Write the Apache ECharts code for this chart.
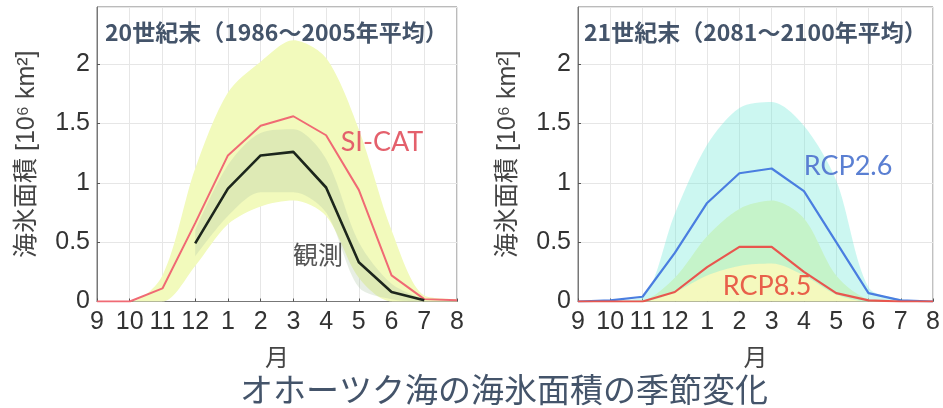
<!DOCTYPE html>
<html>
<head>
<meta charset="utf-8">
<script src="https://cdn.jsdelivr.net/npm/echarts@6/dist/echarts.min.js"></script>
<style>html,body{margin:0;padding:0;background:#fff;}#c{width:943px;height:408px;}</style>
</head>
<body>
<div id="c"></div>
<script>
// ---- data ----
const months = ['9','10','11','12','1','2','3','4','5','6','7','8'];
const yTicks = [0, 0.5, 1, 1.5, 2];
// 20th century (left)
const siCat    = [0, 0, 0.11, 0.66, 1.23, 1.48, 1.56, 1.40, 0.94, 0.22, 0.02, 0.01];
const siLow    = [0, 0, 0, 0.30, 0.65, 0.80, 0.85, 0.72, 0.20, 0, 0, 0];
const siHigh   = [0, 0, 0.22, 1.12, 1.76, 2.02, 2.20, 2.05, 1.45, 0.60, 0.05, 0.02];
const obs      = [null, null, null, 0.49, 0.95, 1.23, 1.26, 0.96, 0.33, 0.08, 0.01, null];
const obsLow   = [null, null, null, 0.38, 0.72, 0.92, 0.92, 0.75, 0.12, 0.02, 0, null];
const obsHigh  = [null, null, null, 0.60, 1.15, 1.42, 1.45, 1.20, 0.50, 0.15, 0.02, null];
// 21st century (right)
const rcp26     = [0, 0.01, 0.04, 0.41, 0.83, 1.08, 1.12, 0.93, 0.50, 0.07, 0.01, 0];
const rcp26Low  = [0, 0, 0, 0.08, 0.22, 0.30, 0.32, 0.22, 0.06, 0, 0, 0];
const rcp26High = [0, 0.01, 0.04, 0.74, 1.32, 1.63, 1.68, 1.48, 1.02, 0.12, 0.02, 0];
const rcp85     = [0, 0, 0, 0.08, 0.29, 0.46, 0.46, 0.25, 0.07, 0.01, 0, 0];
const rcp85Low  = [0, 0, 0, 0, 0, 0, 0, 0, 0, 0, 0, 0];
const rcp85High = [0, 0, 0.01, 0.20, 0.55, 0.78, 0.85, 0.70, 0.22, 0.02, 0, 0];

const titleL = '20世紀末（1986～2005年平均）';
const titleR = '21世紀末（2081～2100年平均）';
const yName = '海氷面積 [10⁶ km²]';
const xName = '月';
const mainTitle = 'オホーツク海の海氷面積の季節変化';

// ---- helpers ----
const diff = (hi, lo) => hi.map((v, i) => (v == null || lo[i] == null) ? null : +(v - lo[i]).toFixed(4));
function band(name, lo, hi, color, idx, z) {
  return [
    {name: name + 'L', type: 'line', xAxisIndex: idx, yAxisIndex: idx, stack: name, data: lo,
     symbol: 'none', smooth: 0.3, lineStyle: {opacity: 0}, silent: true, z: z},
    {name: name + 'H', type: 'line', xAxisIndex: idx, yAxisIndex: idx, stack: name, data: diff(hi, lo),
     symbol: 'none', smooth: 0.3, lineStyle: {opacity: 0}, areaStyle: {color: color, opacity: 1}, silent: true, z: z}
  ];
}
function line(name, data, color, width, idx) {
  return {name: name, type: 'line', xAxisIndex: idx, yAxisIndex: idx, data: data, symbol: 'none',
          lineStyle: {color: color, width: width}, z: 5, connectNulls: false};
}
const labelFont = 'Liberation Sans, Arial, Noto Sans CJK JP, sans-serif';
function xAx(idx) {
  return {type: 'category', gridIndex: idx, data: months, boundaryGap: false,
    axisLine: {show: true, lineStyle: {color: '#777'}},
    axisTick: {show: true, inside: true, length: 3, lineStyle: {color: '#555'}, interval: 0},
    axisLabel: {color: '#333', fontSize: 25, fontFamily: labelFont, margin: 8, interval: 0, hideOverlap: false},
    splitLine: {show: true, interval: 0, lineStyle: {color: '#e6e6e6'}},
    name: xName, nameLocation: 'middle', nameGap: 43,
    nameTextStyle: {color: '#444', fontSize: 24, fontFamily: 'Noto Sans CJK JP'}};
}
function yAx(idx) {
  return {type: 'value', gridIndex: idx, min: 0, max: 2.48, interval: 0.5,
    axisLine: {show: true, lineStyle: {color: '#777'}},
    axisTick: {show: true, inside: true, length: 3, lineStyle: {color: '#555'}},
    axisLabel: {color: '#333', fontSize: 25, fontFamily: labelFont, margin: 7, showMaxLabel: false,
      formatter: v => yTicks.indexOf(v) >= 0 ? String(v) : ''},
    splitLine: {show: true, lineStyle: {color: '#e6e6e6'}},
    name: yName, nameLocation: 'middle', nameRotate: 90, nameGap: 57,
    nameTextStyle: {color: '#444', fontSize: 25, fontFamily: labelFont}};
}
function txt(x, y, text, size, color, family, weight, align) {
  return {type: 'text', x: x, y: y, z: 20, style: {text: text, fontSize: size, fill: color,
    fontFamily: family, fontWeight: weight || 'normal', align: align || 'center', verticalAlign: 'middle'}};
}

const chart = echarts.init(document.getElementById('c'));
chart.setOption({
  animation: false,
  grid: [
    {left: 97, right: 486, top: 7, bottom: 106.5, show: true, borderColor: '#777', borderWidth: 1, backgroundColor: 'transparent'},
    {left: 578, right: 9, top: 7, bottom: 106.5, show: true, borderColor: '#777', borderWidth: 1, backgroundColor: 'transparent'}
  ],
  xAxis: [xAx(0), xAx(1)],
  yAxis: [yAx(0), yAx(1)],
  series: [].concat(
    band('si', siLow, siHigh, 'rgb(242,250,188)', 0, 1),
    band('ob', obsLow, obsHigh, 'rgba(175,200,165,0.3)', 0, 2),
    [line('SI-CAT', siCat, '#f06a74', 2, 0), line('観測', obs, '#1c261c', 2.6, 0)],
    band('r85', rcp85Low, rcp85High, 'rgb(244,249,190)', 1, 1),
    band('r26', rcp26Low, rcp26High, 'rgba(120,234,218,0.38)', 1, 2),
    [line('RCP2.6', rcp26, '#4a7ee0', 2.2, 1), line('RCP8.5', rcp85, '#e8564e', 2.2, 1)]
  ),
  graphic: [
    txt(105, 32, titleL, 23, '#44546a', 'Noto Sans CJK JP', 'bold', 'left'),
    txt(584, 32, titleR, 23, '#44546a', 'Noto Sans CJK JP', 'bold', 'left'),
    txt(382, 142, 'SI-CAT', 27, '#e4606c', 'Lato, Liberation Sans, sans-serif'),
    txt(318, 254, '観測', 25, '#555555', 'Noto Sans CJK JP'),
    txt(848, 166, 'RCP2.6', 27, '#5a7fd2', 'Lato, Liberation Sans, sans-serif'),
    txt(767, 286, 'RCP8.5', 27, '#e8604a', 'Lato, Liberation Sans, sans-serif'),
    txt(504, 389, mainTitle, 33, '#44546a', 'Noto Sans CJK JP')
  ]
});
</script>
</body>
</html>
